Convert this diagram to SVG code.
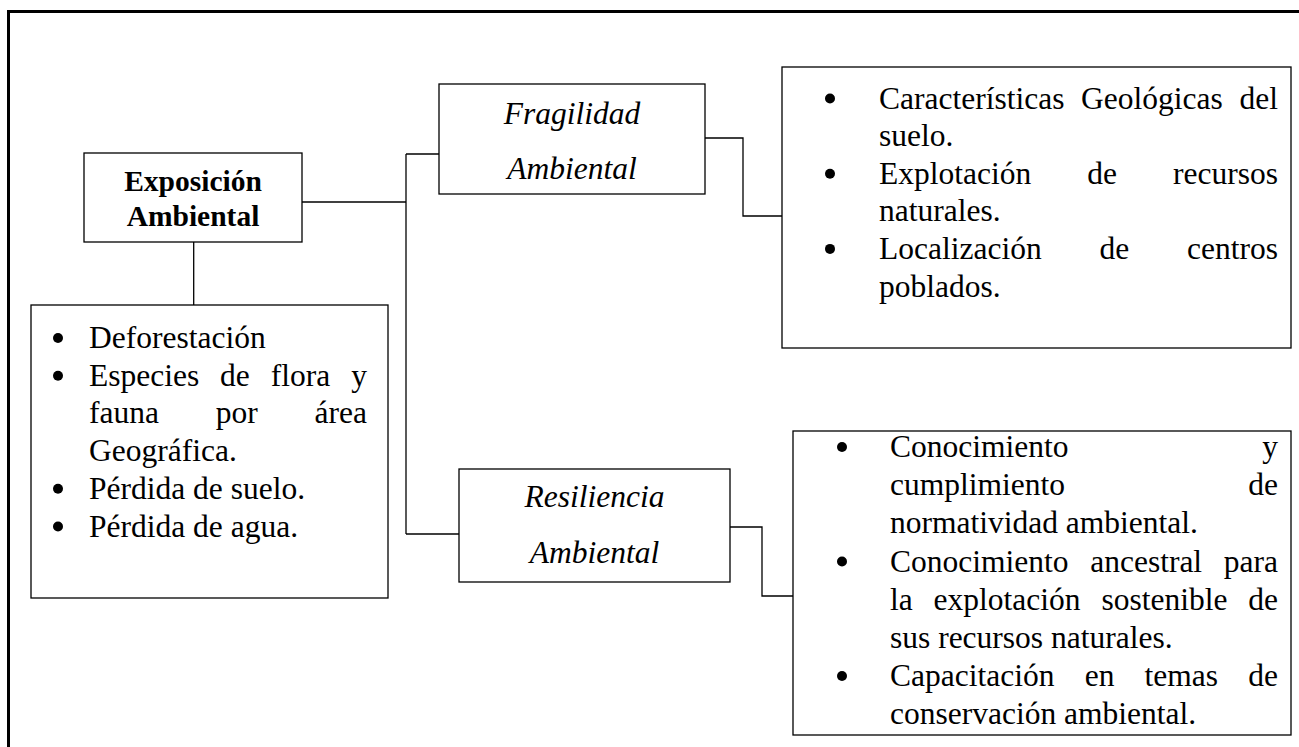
<svg xmlns="http://www.w3.org/2000/svg" width="1299" height="747" viewBox="0 0 1299 747">
<style>
.box{fill:#fff;stroke:#000;stroke-width:1.3}
.ln{fill:none;stroke:#000;stroke-width:1.3}
.t{font-family:"Liberation Serif","Times New Roman",serif;font-size:31.5px;fill:#000}
.i{font-family:"Liberation Serif","Times New Roman",serif;font-size:31.5px;font-style:italic;fill:#000}
.b{font-family:"Liberation Serif","Times New Roman",serif;font-size:29.5px;font-weight:bold;fill:#000}
.e{text-anchor:end}
.c{text-anchor:middle}
.dot{fill:#000}
</style>
<rect width="1299" height="747" fill="#fff"/>
<path d="M8.5,747 V11.5 H1299" fill="none" stroke="#000" stroke-width="3"/>
<g id="connectors">
<path class="ln" d="M193.7,242 V305"/>
<path class="ln" d="M302,202 H406"/>
<path class="ln" d="M406,154 V534"/>
<path class="ln" d="M406,154 H439"/>
<path class="ln" d="M406,534 H459"/>
<path class="ln" d="M705,138 H743 V216 H782"/>
<path class="ln" d="M730,527 H762 V596 H793"/>
</g>
<g id="exposicion">
<rect class="box" x="84" y="153" width="218" height="89"/>
<text class="b c" x="193" y="190.5">Exposición</text>
<text class="b c" x="193" y="225.5">Ambiental</text>
</g>
<g id="fragilidad">
<rect class="box" x="439" y="84" width="266" height="110"/>
<text class="i c" x="572" y="123.5">Fragilidad</text>
<text class="i c" x="572" y="178.5">Ambiental</text>
</g>
<g id="resiliencia">
<rect class="box" x="459" y="469" width="271" height="113"/>
<text class="i c" x="594.5" y="507">Resiliencia</text>
<text class="i c" x="594.5" y="563">Ambiental</text>
</g>
<g id="exposicion-items">
<rect class="box" x="31" y="305" width="357" height="293"/>
<circle class="dot" cx="58" cy="338" r="5"/>
<circle class="dot" cx="58" cy="375.7" r="5"/>
<circle class="dot" cx="58" cy="488.8" r="5"/>
<circle class="dot" cx="58" cy="526.5" r="5"/>
<text class="t" x="89" y="348">Deforestación</text>
<text class="t" y="385.7"><tspan x="89">Especies</tspan><tspan x="220.1">de</tspan><tspan x="270.7">flora</tspan></text>
<text class="t e" x="367" y="385.7">y</text>
<text class="t" y="423.4"><tspan x="89">fauna</tspan><tspan x="215.8">por</tspan></text>
<text class="t e" x="367" y="423.4">área</text>
<text class="t" x="89" y="461.1">Geográfica.</text>
<text class="t" x="89" y="498.8">Pérdida de suelo.</text>
<text class="t" x="89" y="536.5">Pérdida de agua.</text>
</g>
<g id="fragilidad-items">
<rect class="box" x="782" y="67" width="509" height="281"/>
<circle class="dot" cx="830" cy="98.5" r="5"/>
<circle class="dot" cx="830" cy="173.7" r="5"/>
<circle class="dot" cx="830" cy="248.9" r="5"/>
<text class="t" y="108.5"><tspan x="879">Características</tspan><tspan x="1081.1">Geológicas</tspan></text>
<text class="t e" x="1278" y="108.5">del</text>
<text class="t" x="879" y="146.1">suelo.</text>
<text class="t" y="183.7"><tspan x="879">Explotación</tspan><tspan x="1087.3">de</tspan></text>
<text class="t e" x="1278" y="183.7">recursos</text>
<text class="t" x="879" y="221.3">naturales.</text>
<text class="t" y="258.9"><tspan x="879">Localización</tspan><tspan x="1099.5">de</tspan></text>
<text class="t e" x="1278" y="258.9">centros</text>
<text class="t" x="879" y="296.5">poblados.</text>
</g>
<g id="resiliencia-items">
<rect class="box" x="793" y="431" width="498" height="304"/>
<circle class="dot" cx="842" cy="447" r="5"/>
<circle class="dot" cx="842" cy="561.5" r="5"/>
<circle class="dot" cx="842" cy="676" r="5"/>
<text class="t" x="890" y="457">Conocimiento</text>
<text class="t e" x="1278" y="457">y</text>
<text class="t" x="890" y="495">cumplimiento</text>
<text class="t e" x="1278" y="495">de</text>
<text class="t" x="890" y="533">normatividad ambiental.</text>
<text class="t" y="571.5"><tspan x="890">Conocimiento</tspan><tspan x="1090.2">ancestral</tspan></text>
<text class="t e" x="1278" y="571.5">para</text>
<text class="t" y="609.5"><tspan x="890">la</tspan><tspan x="933.6">explotación</tspan><tspan x="1101.5">sostenible</tspan></text>
<text class="t e" x="1278" y="609.5">de</text>
<text class="t" x="890" y="648">sus recursos naturales.</text>
<text class="t" y="686"><tspan x="890">Capacitación</tspan><tspan x="1084.7">en</tspan><tspan x="1144.6">temas</tspan></text>
<text class="t e" x="1278" y="686">de</text>
<text class="t" x="890" y="724">conservación ambiental.</text>
</g>
</svg>
